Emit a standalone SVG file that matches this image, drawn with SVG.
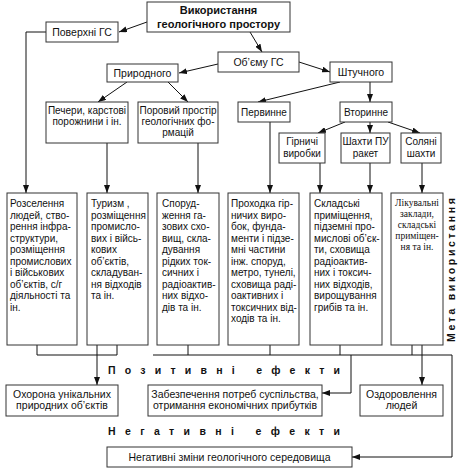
<svg xmlns="http://www.w3.org/2000/svg" width="465" height="473" viewBox="0 0 465 473">
<defs>
<marker id="ah" markerWidth="8" markerHeight="6" refX="8" refY="3" orient="auto" markerUnits="userSpaceOnUse">
<path d="M0,0 L8,3 L0,6 z" fill="#111"/>
</marker>
<style>
rect{fill:#fff;stroke:#333;stroke-width:1}
text{font-family:"Liberation Sans",Arial,sans-serif;font-size:10px;fill:#111}
.c{text-anchor:middle}
.b{font-weight:bold}
.t{font-size:11px;font-weight:bold}
.s{font-family:"Liberation Serif","Times New Roman",serif;font-size:9.5px}
.h{font-weight:bold;font-size:10.5px}
#connectors path,#connectors line{fill:none;stroke:#111;stroke-width:1}
.a{marker-end:url(#ah)}
</style>
</defs>
<rect x="0" y="0" width="465" height="473" style="fill:#fff;stroke:none"/>

<g id="connectors">
<line class="a" x1="147" y1="22" x2="119" y2="32"/>
<line class="a" x1="250" y1="32" x2="262" y2="52"/>
<line class="a" x1="218" y1="64" x2="179" y2="73"/>
<line class="a" x1="299" y1="62" x2="330" y2="72"/>
<line class="a" x1="127" y1="82" x2="98" y2="102"/>
<line class="a" x1="168" y1="82" x2="188" y2="102"/>
<line class="a" x1="340" y1="82" x2="258" y2="102"/>
<line class="a" x1="370" y1="82" x2="370" y2="102"/>
<line class="a" x1="345" y1="122" x2="318" y2="133"/>
<line class="a" x1="370" y1="122" x2="370" y2="133"/>
<line class="a" x1="388" y1="122" x2="420" y2="133"/>
<path class="a" d="M46,32 H26 V193"/>
<line class="a" x1="107" y1="143" x2="107" y2="193"/>
<line class="a" x1="198" y1="143" x2="198" y2="193"/>
<line class="a" x1="270" y1="122" x2="270" y2="193"/>
<line class="a" x1="320" y1="163" x2="320" y2="193"/>
<line class="a" x1="370" y1="163" x2="370" y2="193"/>
<line class="a" x1="422" y1="163" x2="422" y2="193"/>
<path d="M37,345 V355 H117 V345"/>
<line class="a" x1="97" y1="345" x2="97" y2="385"/>
<path d="M153,355 H452"/>
<line x1="188" y1="345" x2="188" y2="355"/>
<line x1="270" y1="345" x2="270" y2="355"/>
<line x1="340" y1="345" x2="340" y2="355"/>
<line x1="412" y1="345" x2="412" y2="355"/>
<path class="a" d="M351,355 V393 H322"/>
<path class="a" d="M452,355 V457 H352"/>
<line class="a" x1="422" y1="345" x2="422" y2="385"/>
</g>

<g id="n-title"><rect x="147" y="2" width="143" height="30"/>
<text class="c t" x="218.5" y="14">Використання</text>
<text class="c t" x="218.5" y="28">геологічного простору</text></g>

<g id="n-surface"><rect x="46" y="22" width="72" height="20"/>
<text class="c" x="82" y="35.5" style="font-size:10.5px">Поверхні ГС</text></g>

<g id="n-volume"><rect x="218" y="52" width="81" height="20"/>
<text class="c" x="258.5" y="65.5" style="font-size:10.5px">Об’єму ГС</text></g>

<g id="n-natural"><rect x="107" y="64" width="71" height="18"/>
<text class="c" x="142.5" y="77" style="font-size:10.5px">Природного</text></g>

<g id="n-artificial"><rect x="330" y="62" width="62" height="20"/>
<text class="c" x="361" y="75.5" style="font-size:10.5px">Штучного</text></g>

<g id="n-caves"><rect x="46" y="102" width="82" height="41"/>
<text class="c" x="87" y="114">Печери, карстові</text>
<text class="c" x="87" y="125">порожнини і ін.</text></g>

<g id="n-pore"><rect x="138" y="102" width="80" height="41"/>
<text class="c" x="178" y="114">Поровий простір</text>
<text class="c" x="178" y="125">геологічних фо-</text>
<text class="c" x="178" y="136">рмацій</text></g>

<g id="n-primary"><rect x="238" y="102" width="52" height="20"/>
<text class="c" x="264" y="115.5">Первинне</text></g>

<g id="n-secondary"><rect x="340" y="102" width="52" height="20"/>
<text class="c" x="366" y="115.5">Вторинне</text></g>

<g id="n-mine"><rect x="279" y="133" width="46" height="30"/>
<text class="c" x="302" y="145">Гірничі</text>
<text class="c" x="302" y="157">виробки</text></g>

<g id="n-silo"><rect x="341" y="133" width="49" height="30"/>
<text class="c" x="365.5" y="145">Шахти ПУ</text>
<text class="c" x="365.5" y="157">ракет</text></g>

<g id="n-salt"><rect x="401" y="133" width="40" height="30"/>
<text class="c" x="421" y="145">Соляні</text>
<text class="c" x="421" y="157">шахти</text></g>

<g id="n-b1"><rect x="7" y="193" width="70" height="152"/>
<text x="10" y="207">Розселення</text>
<text x="10" y="218.5">людей,  ство-</text>
<text x="10" y="230">рення інфра-</text>
<text x="10" y="241.5">структури,</text>
<text x="10" y="253">розміщення</text>
<text x="10" y="264.5">промислових</text>
<text x="10" y="276">і військових</text>
<text x="10" y="287.5">об’єктів, с/г</text>
<text x="10" y="299">діяльності та</text>
<text x="10" y="310.5">ін.</text></g>

<g id="n-b2"><rect x="87" y="193" width="61" height="152"/>
<text x="91" y="207">Туризм ,</text>
<text x="91" y="218.5">розміщення</text>
<text x="91" y="230">промисло-</text>
<text x="91" y="241.5">вих і війсь-</text>
<text x="91" y="253">кових</text>
<text x="91" y="264.5">об’єктів,</text>
<text x="91" y="276">складуван-</text>
<text x="91" y="287.5">ня відходів</text>
<text x="91" y="299">та ін.</text></g>

<g id="n-b3"><rect x="157" y="193" width="62" height="152"/>
<text x="162" y="207">Споруд-</text>
<text x="162" y="218.5">ження га-</text>
<text x="162" y="230">зових схо-</text>
<text x="162" y="241.5">вищ, скла-</text>
<text x="162" y="253">дування</text>
<text x="162" y="264.5">рідких ток-</text>
<text x="162" y="276">сичних і</text>
<text x="162" y="287.5">радіоактив-</text>
<text x="162" y="299">них відхо-</text>
<text x="162" y="310.5">дів та ін.</text></g>

<g id="n-b4"><rect x="228" y="193" width="71" height="152"/>
<text x="231" y="207">Проходка гір-</text>
<text x="231" y="218.5">ничих виро-</text>
<text x="231" y="230">бок, фунда-</text>
<text x="231" y="241.5">менти і підзе-</text>
<text x="231" y="253">мні частини</text>
<text x="231" y="264.5">інж. споруд,</text>
<text x="231" y="276">метро, тунелі,</text>
<text x="231" y="287.5">сховища раді-</text>
<text x="231" y="299">оактивних і</text>
<text x="231" y="310.5">токсичних від-</text>
<text x="231" y="322">ходів та ін.</text></g>

<g id="n-b5"><rect x="310" y="193" width="72" height="152"/>
<text x="314" y="207">Складські</text>
<text x="314" y="218.5">приміщення,</text>
<text x="314" y="230">підземні про-</text>
<text x="314" y="241.5">мислові об’єк-</text>
<text x="314" y="253">ти, сховища</text>
<text x="314" y="264.5">радіоактив-</text>
<text x="314" y="276">них і токсич-</text>
<text x="314" y="287.5">них відходів,</text>
<text x="314" y="299">вирощування</text>
<text x="314" y="310.5">грибів та ін.</text></g>

<g id="n-b6"><rect x="391" y="193" width="52" height="152"/>
<text class="c s" x="417" y="206">Лікувальні</text>
<text class="c s" x="417" y="217">заклади,</text>
<text class="c s" x="417" y="228">складські</text>
<text class="c s" x="417" y="239">приміщен-</text>
<text class="c s" x="417" y="250">ня та ін.</text></g>

<text class="h" transform="translate(455,342) rotate(-90)" x="0" y="0" textLength="144" lengthAdjust="spacing">Мета використання</text>

<text class="h" x="108" y="374" textLength="232" lengthAdjust="spacing">Позитивні ефекти</text>
<text class="h" x="108" y="435" textLength="232" lengthAdjust="spacing">Негативні ефекти</text>

<g id="n-protect"><rect x="6" y="385" width="112" height="31"/>
<text class="c" x="62" y="397.5" style="font-size:10.5px">Охорона унікальних</text>
<text class="c" x="62" y="409" style="font-size:10.5px">природних об’єктів</text></g>

<g id="n-needs"><rect x="148" y="385" width="174" height="31"/>
<text class="c" x="235" y="397.5" style="font-size:10.5px">Забезпечення потреб суспільства,</text>
<text class="c" x="235" y="409" style="font-size:10.5px">отримання економічних прибутків</text></g>

<g id="n-health"><rect x="360" y="385" width="83" height="31"/>
<text class="c" x="401.5" y="397.5" style="font-size:10.5px">Оздоровлення</text>
<text class="c" x="401.5" y="409" style="font-size:10.5px">людей</text></g>

<g id="n-negative"><rect x="107" y="447" width="245" height="20"/>
<text class="c" x="229.5" y="460.5" style="font-size:10.5px">Негативні зміни геологічного середовища</text></g>
</svg>
